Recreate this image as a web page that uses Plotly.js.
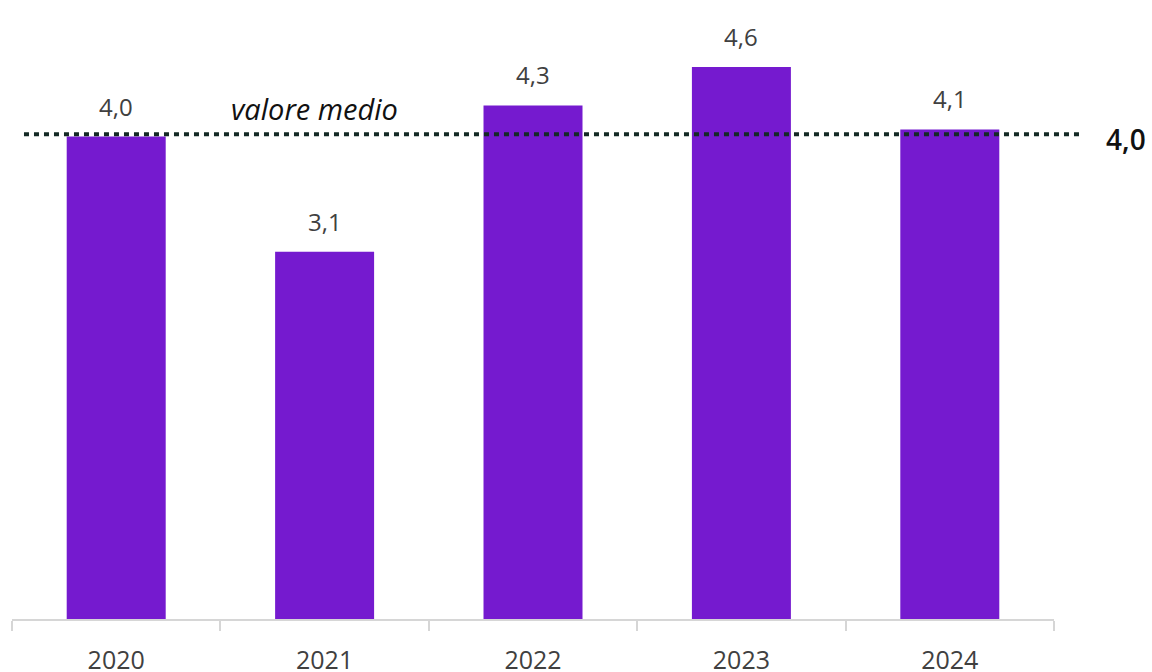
<!DOCTYPE html>
<html>
<head>
<meta charset="utf-8">
<script src="https://cdn.plot.ly/plotly-3.0.1.min.js"></script>
<style>html,body{margin:0;padding:0;background:#fff;}#chart{width:1152px;height:672px;}</style>
</head>
<body>
<div id="chart"></div>
<script>
const years = ['2020', '2021', '2022', '2023', '2024'];
const values = [4.02, 3.06, 4.28, 4.6, 4.08];
const meanValue = 4.04;
const meanLabel = 'valore medio';

const fmt = v => v.toFixed(1).replace('.', ',');
const FONT = '"Open Sans", "Noto Sans", sans-serif';

const trace = {
  type: 'bar',
  x: years,
  y: values,
  marker: {color: '#751ACF'},
  hoverinfo: 'skip'
};

const annotations = years.map((yr, i) => ({
  x: i, y: values[i], xref: 'x', yref: 'y',
  text: fmt(values[i]), showarrow: false,
  yanchor: 'bottom', yshift: 12,
  font: {family: FONT, size: 24, color: '#404040'}
}));
annotations.push({
  x: 1.069, xref: 'paper', y: meanValue, yref: 'y',
  text: fmt(meanValue), showarrow: false, xanchor: 'center', yanchor: 'middle', yshift: -5,
  font: {family: FONT, size: 28, color: '#111111', weight: 600}
});
annotations.push({
  x: 0.208, xref: 'paper', y: meanValue, yref: 'y',
  text: '<i>' + meanLabel + '</i>', showarrow: false, xanchor: 'left', yanchor: 'bottom', yshift: 4,
  font: {family: FONT, size: 29, color: '#111111'}
});

const layout = {
  width: 1152, height: 672,
  margin: {l: 12, r: 98, t: 19, b: 53},
  paper_bgcolor: '#ffffff', plot_bgcolor: '#ffffff',
  bargap: 0.525,
  showlegend: false,
  xaxis: {
    type: 'category', range: [-0.5, 4.5],
    categoryorder: 'array', categoryarray: years,
    showline: true, linecolor: '#d6d6d6', linewidth: 2,
    ticks: 'outside', tickson: 'boundaries', ticklen: 10, tickwidth: 2, tickcolor: '#d6d6d6',
    tickangle: 0, ticklabelstandoff: 18,
    tickfont: {family: FONT, size: 25, color: '#404040'},
    showgrid: false, zeroline: false, fixedrange: true
  },
  yaxis: {
    range: [0, 5], visible: false, showgrid: false, zeroline: false, fixedrange: true
  },
  shapes: [{
    type: 'line', xref: 'paper', yref: 'y',
    x0: 0.0115, x1: 1.027, y0: meanValue, y1: meanValue,
    line: {color: '#142a25', width: 4, dash: '5px,5px'}
  }],
  annotations: annotations
};

Plotly.newPlot('chart', [trace], layout, {displayModeBar: false, staticPlot: true});
</script>
</body>
</html>
